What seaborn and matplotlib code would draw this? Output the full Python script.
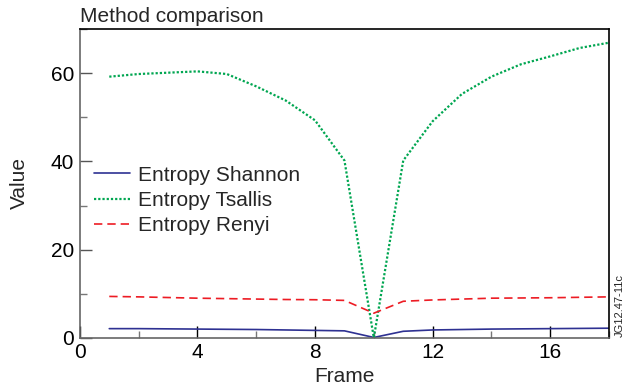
import matplotlib
matplotlib.use('Agg')
import matplotlib.pyplot as plt
import seaborn as sns
from matplotlib.ticker import MultipleLocator

# data
frames = list(range(1, 19))
shannon = [2.1, 2.1, 2.05, 2.0, 1.95, 1.9, 1.8, 1.7, 1.6, 0.1,
           1.5, 1.8, 1.9, 2.0, 2.05, 2.1, 2.15, 2.2]
tsallis = [59.2, 59.8, 60.1, 60.4, 59.8, 57.0, 53.8, 49.3, 40.2, 0.0,
           40.2, 49.1, 55.3, 59.2, 62.0, 63.8, 65.7, 66.9]
renyi = [9.4, 9.3, 9.15, 9.0, 8.9, 8.8, 8.7, 8.65, 8.5, 5.6,
         8.3, 8.6, 8.8, 9.0, 9.05, 9.1, 9.2, 9.3]

sns.set_style('white')
plt.rcParams['font.family'] = ['Liberation Sans', 'DejaVu Sans']

fig = plt.figure(figsize=(6.24, 3.92), dpi=100)
ax = fig.add_axes([0.128, 0.138, 0.848, 0.788])

sns.lineplot(x=frames, y=shannon, ax=ax, color='#2e3192', lw=1.2,
             label='Entropy Shannon')
sns.lineplot(x=frames, y=tsallis, ax=ax, color='#00a651', lw=1.6,
             linestyle=(0, (1, 0.9)), label='Entropy Tsallis')
sns.lineplot(x=frames, y=renyi, ax=ax, color='#ed1c24', lw=1.2,
             linestyle=(0, (5, 3)), label='Entropy Renyi')

ax.set_xlim(0, 18)
ax.set_ylim(0, 70)
ax.xaxis.set_major_locator(MultipleLocator(4))
ax.xaxis.set_minor_locator(MultipleLocator(2))
ax.yaxis.set_major_locator(MultipleLocator(20))
ax.yaxis.set_minor_locator(MultipleLocator(10))
ax.tick_params(which='both', bottom=True, left=True, top=False, right=False)
ax.tick_params(which='major', direction='in', length=8.5, width=1,
               colors='#555555', labelcolor='black', labelsize=15, pad=4)
ax.tick_params(which='minor', direction='in', length=5, width=1,
               colors='#777777')
ax.tick_params(axis='x', which='major', colors='black')

for side in ['left', 'bottom']:
    ax.spines[side].set_color('#666666')
    ax.spines[side].set_linewidth(1.2)
for side in ['top', 'right']:
    ax.spines[side].set_color('black')
    ax.spines[side].set_linewidth(1.2)

ax.set_xlabel('Frame', fontsize=15, labelpad=3)
ax.set_ylabel('Value', fontsize=15, labelpad=16)
ax.set_title('Method comparison', loc='left', fontsize=15, pad=5)

ax.legend(loc='upper left', bbox_to_anchor=(0.0, 0.605), frameon=False,
          fontsize=15, handlelength=1.7, handletextpad=0.4,
          labelspacing=0.3, borderaxespad=0.3)

fig.text(0.993, 0.14, 'JG12.47-11c', rotation=90, fontsize=8,
         ha='center', va='bottom')

fig.savefig('out.png', dpi=100)
